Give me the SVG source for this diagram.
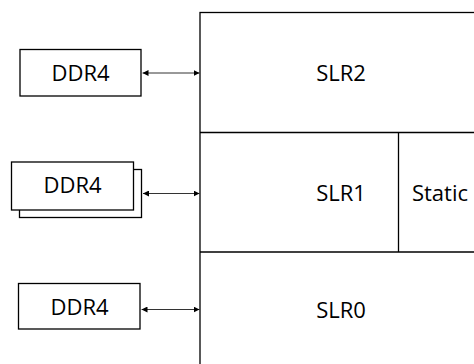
<svg xmlns="http://www.w3.org/2000/svg" width="474" height="364" viewBox="0 0 474 364">
  <style>
    .box { fill: #ffffff; stroke: #000000; stroke-width: 1.3; }
    .div { fill: none; stroke: #000000; stroke-width: 1.3; }
    .lbl { font-family: "Open Sans", "Noto Sans", sans-serif; font-size: 22px; fill: #000000; text-anchor: middle; }
    .link { stroke: #333333; stroke-width: 1; fill: none; marker-start: url(#head); marker-end: url(#head); }
  </style>
  <defs>
    <marker id="head" viewBox="0 0 10 10" refX="10" refY="5" markerWidth="6" markerHeight="6" markerUnits="userSpaceOnUse" orient="auto-start-reverse">
      <path d="M0,0 L10,5 L0,10 z" fill="#000000"/>
    </marker>
  </defs>
  <rect width="474" height="364" fill="#ffffff"/>

  <!-- FPGA die split into super logic regions -->
  <g id="fpga">
    <rect class="box" x="200" y="12.5" width="290" height="370"/>
  </g>
  <g id="slr2">
    <text class="lbl" x="341" y="81">SLR2</text>
  </g>
  <g id="slr1">
    <line class="div" x1="200" y1="132.5" x2="480" y2="132.5"/>
    <text class="lbl" x="341" y="201">SLR1</text>
  </g>
  <g id="static">
    <line class="div" x1="398.5" y1="132.5" x2="398.5" y2="252"/>
    <text class="lbl" x="440" y="201">Static</text>
  </g>
  <g id="slr0">
    <line class="div" x1="200" y1="252" x2="480" y2="252"/>
    <text class="lbl" x="341" y="318">SLR0</text>
  </g>

  <!-- memory banks -->
  <g id="ddr4-top">
    <rect class="box" x="20" y="49.5" width="121" height="46.5"/>
    <text class="lbl" x="80.5" y="81">DDR4</text>
  </g>
  <g id="ddr4-mid">
    <rect class="box" x="19.5" y="169.5" width="122" height="48"/>
    <rect class="box" x="11.5" y="162" width="122" height="48"/>
    <text class="lbl" x="72.5" y="193">DDR4</text>
  </g>
  <g id="ddr4-bot">
    <rect class="box" x="18.5" y="283.5" width="121.5" height="45.5"/>
    <text class="lbl" x="79.5" y="315">DDR4</text>
  </g>

  <!-- bidirectional links -->
  <g id="connectors">
    <line class="link" x1="142.5" y1="73" x2="199.5" y2="73"/>
    <line class="link" x1="143" y1="193.5" x2="199.5" y2="193.5"/>
    <line class="link" x1="141.5" y1="309.5" x2="199.5" y2="309.5"/>
  </g>
</svg>
